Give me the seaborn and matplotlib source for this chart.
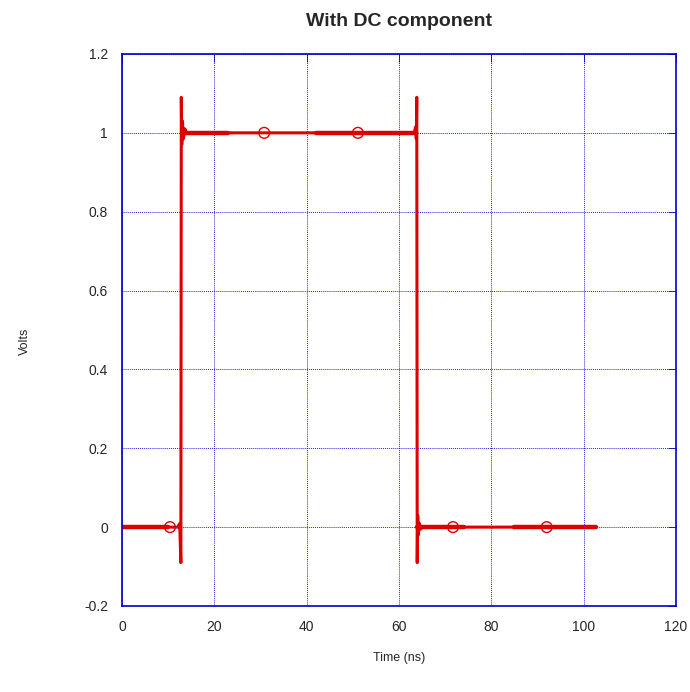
import numpy as np
import pandas as pd
import seaborn as sns
import matplotlib.pyplot as plt

# Waveform breakpoints (time in ns, volts)
time_ns = [0, 12.2, 12.4, 12.55, 12.75, 12.85, 12.95, 13.1, 13.3, 13.6, 14.0,
           63.3, 63.6, 63.75, 63.85, 63.95, 64.05, 64.2, 64.4, 64.7, 65.1, 102.7]
volts = [0, 0.0, 0.008, -0.01, -0.09, 1.09, 0.97, 1.03, 0.985, 1.01, 1.0,
         1.0, 1.015, 0.985, 1.09, -0.09, 0.03, -0.02, 0.01, -0.005, 0.0, 0.0]

# Stretches where the trace ripples (drawn as a thicker band)
band_start = [0.0, 13.0, 42.0, 64.0, 85.0]
band_end = [10.0, 23.0, 63.7, 74.0, 102.7]
band_level = [0.0, 1.0, 1.0, 0.0, 0.0]

# Marker positions
marker_t = [10.4, 30.8, 51.1, 71.7, 92.0]
marker_v = [0.0, 1.0, 1.0, 0.0, 0.0]

red = "#dd0000"
blue = "#0000cc"

sns.set_style("white")
plt.rcParams["font.family"] = ["Liberation Sans", "DejaVu Sans"]

fig = plt.figure(figsize=(6.9, 6.92), dpi=100)
ax = fig.add_axes([0.1768, 0.1243, 0.8029, 0.7977])

wave = pd.DataFrame({"t": time_ns, "v": volts})
sns.lineplot(data=wave, x="t", y="v", sort=False, estimator=None,
             color=red, linewidth=2.2, ax=ax)

for s, e, lv in zip(band_start, band_end, band_level):
    seg = pd.DataFrame({"t": [s, e], "v": [lv, lv]})
    sns.lineplot(data=seg, x="t", y="v", sort=False, estimator=None,
                 color=red, linewidth=3.2, ax=ax)

marks = pd.DataFrame({"t": marker_t, "v": marker_v})
sns.scatterplot(data=marks, x="t", y="v", marker="o", s=60,
                facecolors="none", edgecolor=red, linewidth=1.0, ax=ax, zorder=5)

ax.set_xlim(0, 120)
ax.set_ylim(-0.2, 1.2)
ax.set_xticks([0, 20, 40, 60, 80, 100, 120])
ax.set_yticks([-0.2, 0, 0.2, 0.4, 0.6, 0.8, 1.0, 1.2])
ax.set_yticklabels(["-0.2", "0", "0.2", "0.4", "0.6", "0.8", "1", "1.2"])
ax.grid(True, color=blue, linestyle=(0, (1, 1)), linewidth=0.7, alpha=0.85)
ax.set_axisbelow(True)
for sp in ax.spines.values():
    sp.set_color(blue)
    sp.set_linewidth(1.2)
ax.tick_params(direction="in", length=6, color=blue, width=0.6,
               top=True, right=True, labelsize=10, pad=10)

ax.set_xlabel("Time (ns)", fontsize=9)
ax.set_ylabel("Volts", fontsize=9)
ax.xaxis.set_label_coords(0.5, -0.083)
ax.yaxis.set_label_coords(-0.165, 0.48)
ax.set_title("With DC component", fontsize=14, fontweight="bold", pad=20)

fig.savefig("out.png", dpi=100)
